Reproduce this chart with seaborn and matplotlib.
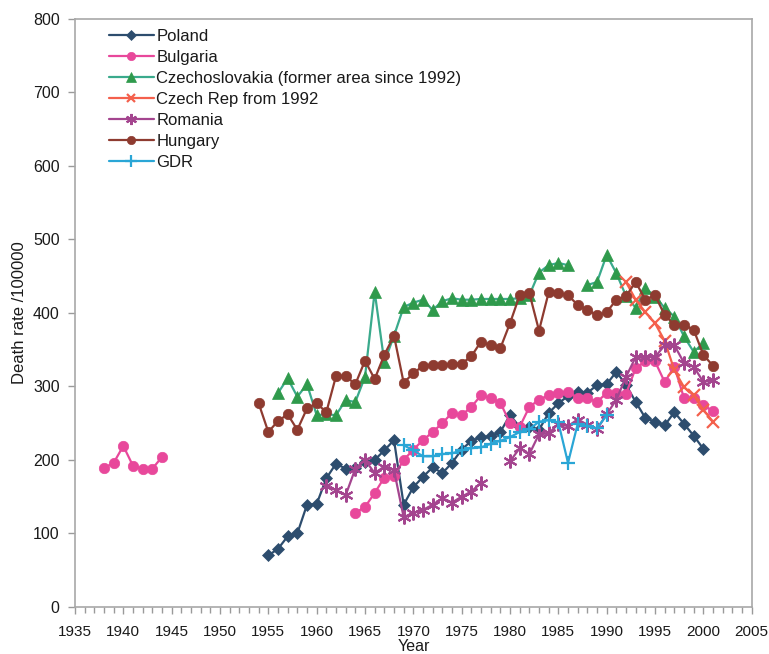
import numpy as np
import pandas as pd
import matplotlib
matplotlib.use("Agg")
import matplotlib.pyplot as plt
import seaborn as sns
from matplotlib.ticker import MultipleLocator
from matplotlib.lines import Line2D

# ---------------- data ----------------
poland_start = 1955
poland = [70, 79, 96, 100, 139, 140, 175, 195, 188, 189, 197, 200, 213, 227,
          139, 163, 177, 190, 182, 196, 214, 226, 231, 232, 238, 261, 245, 245,
          241, 264, 277, 287, 293, 291, 302, 303, 320, 302, 279, 257, 252, 247,
          265, 249, 233, 215]

bulgaria_start = 1938
bulgaria = [189, 196, 219, 192, 188, 188, 204] + [None] * 19 + \
           [128, 136, 155, 176, 178, 200, 214, 227, 238, 250, 264, 261, 272,
            288, 284, 278, 250, 245, 272, 282, 288, 291, 293, 284, 284, 279,
            291, 291, 290, 325, 334, 334, 306, 327, 284, 284, 275, 266]

czechoslovakia_start = 1956
czechoslovakia = [291, 311, 286, 303, 261, 262, 261, 281, 279, 313, 429, 333,
                  369, 408, 414, 418, 404, 416, 420, 418, 418, 419, 419, 419,
                  419, 420, 424, 455, 465, 468, 465, None, 438, 442, 479, 454,
                  423, 407, 434, 422, 407, 395, 368, 347, 359]

czech_rep_start = 1992
czech_rep = [442, 418, 401, 386, 362, 322, 299, 288, 268, 252]

romania_start = 1961
romania = [165, 159, 152, 188, 200, 182, 191, 186, 122, 128, 132, 139, 148,
           142, 150, 157, 169, None, None, 198, 216, 208, 235, 236, 249, 246,
           255, 248, 242, 262, 282, 313, 340, 340, 340, 356, 356, 332, 327,
           306, 309]

hungary_start = 1954
hungary = [277, 238, 253, 262, 241, 270, 277, 265, 314, 314, 303, 335, 310,
           343, 369, 305, 318, 328, 329, 329, 331, 331, 341, 361, 356, 352,
           386, 424, 427, 376, 428, 427, 424, 411, 404, 397, 401, 418, 423,
           442, 418, 424, 397, 384, 384, 377, 343, 328]

gdr_start = 1969
gdr = [220, 213, 205, 205, 208, 209, 213, 216, 217, 222, 226, 231, 238, 242,
       252, 254, 251, 196, 249, 246, 243, 261]

series_names = ["Poland", "Bulgaria", "Czechoslovakia (former area since 1992)",
                "Czech Rep from 1992", "Romania", "Hungary", "GDR"]
series_starts = [poland_start, bulgaria_start, czechoslovakia_start,
                 czech_rep_start, romania_start, hungary_start, gdr_start]
series_values = [poland, bulgaria, czechoslovakia, czech_rep, romania,
                 hungary, gdr]

x_ticks = list(range(1935, 2006, 5))
y_ticks = list(range(0, 801, 100))

# ---------------- style ----------------
sns.set_style("white")
plt.rcParams["font.family"] = ["Liberation Sans", "DejaVu Sans"]

styles = {
    "Poland": dict(color="#2d4d6e", marker="D", ms=6.5, mec="#2d4d6e", mew=0.5),
    "Bulgaria": dict(color="#e8489b", marker="o", ms=7.5, mec="#e8489b", mew=0.5),
    "Czechoslovakia (former area since 1992)": dict(color="#3aaa8c", marker="^", ms=8.5,
                                                    mfc="#2f9a4c", mec="#2f9a4c", mew=0.5),
    "Czech Rep from 1992": dict(color="#f4604c", marker="x", ms=8, mec="#f4604c", mew=1.6),
    "Romania": dict(color="#a4458f", marker=(6, 2, 0), ms=10, mec="#a4458f", mew=1.5),
    "Hungary": dict(color="#8e3b30", marker="o", ms=7.5, mec="#8e3b30", mew=0.5),
    "GDR": dict(color="#2aa6d6", marker="+", ms=10, mec="#2aa6d6", mew=1.6),
}

fig = plt.figure(figsize=(7.69, 6.54), dpi=100)
ax = fig.add_axes([0.0975, 0.072, 0.880, 0.899])

handles = []
for name, start, vals in zip(series_names, series_starts, series_values):
    years = np.arange(start, start + len(vals))
    v = np.array([np.nan if x is None else x for x in vals], dtype=float)
    df = pd.DataFrame({"year": years, "value": v})
    df["seg"] = df["value"].isna().cumsum()
    df = df.dropna()
    st = styles[name]
    kw = dict(color=st["color"], marker=st["marker"], markersize=st["ms"],
              markeredgecolor=st["mec"], markeredgewidth=st["mew"], linewidth=1.6)
    if "mfc" in st:
        kw["markerfacecolor"] = st["mfc"]
    for _, g in df.groupby("seg"):
        sns.lineplot(data=g, x="year", y="value", ax=ax, estimator=None,
                     sort=False, legend=False, **kw)
    hk = dict(kw)
    hk["markersize"] = st["ms"] * 0.8
    handles.append(Line2D([], [], label=name, **hk))

ax.set_xlim(1935, 2005)
ax.set_ylim(0, 800)
ax.set_xticks(x_ticks)
ax.set_yticks(y_ticks)
ax.xaxis.set_minor_locator(MultipleLocator(1))
ax.tick_params(axis="both", which="major", direction="out", length=5, width=1,
               color="#9a9a9a", labelsize=11, labelcolor="#1a1a1a")
ax.tick_params(axis="y", which="major", labelsize=11.5)
ax.tick_params(axis="x", which="minor", direction="out", length=4, width=1,
               color="#9a9a9a", bottom=True)
ax.tick_params(axis="x", which="major", pad=8, bottom=True)
ax.tick_params(axis="y", which="major", left=True, pad=6)
for s in ax.spines.values():
    s.set_visible(True)
    s.set_color("#a8a8a8")
    s.set_linewidth(1.2)

ax.set_xlabel("Year", fontsize=11.5, labelpad=0, color="#1a1a1a")
ax.set_ylabel("Death rate /100000", fontsize=12, labelpad=4, color="#1a1a1a")

leg = ax.legend(handles=handles, loc="upper left", bbox_to_anchor=(0.04, 0.995),
                frameon=False, fontsize=12, handlelength=2.7, handletextpad=0.15,
                labelspacing=0.36, borderaxespad=0)
for t in leg.get_texts():
    t.set_color("#1a1a1a")

fig.savefig("out.png", dpi=100, facecolor="white")
